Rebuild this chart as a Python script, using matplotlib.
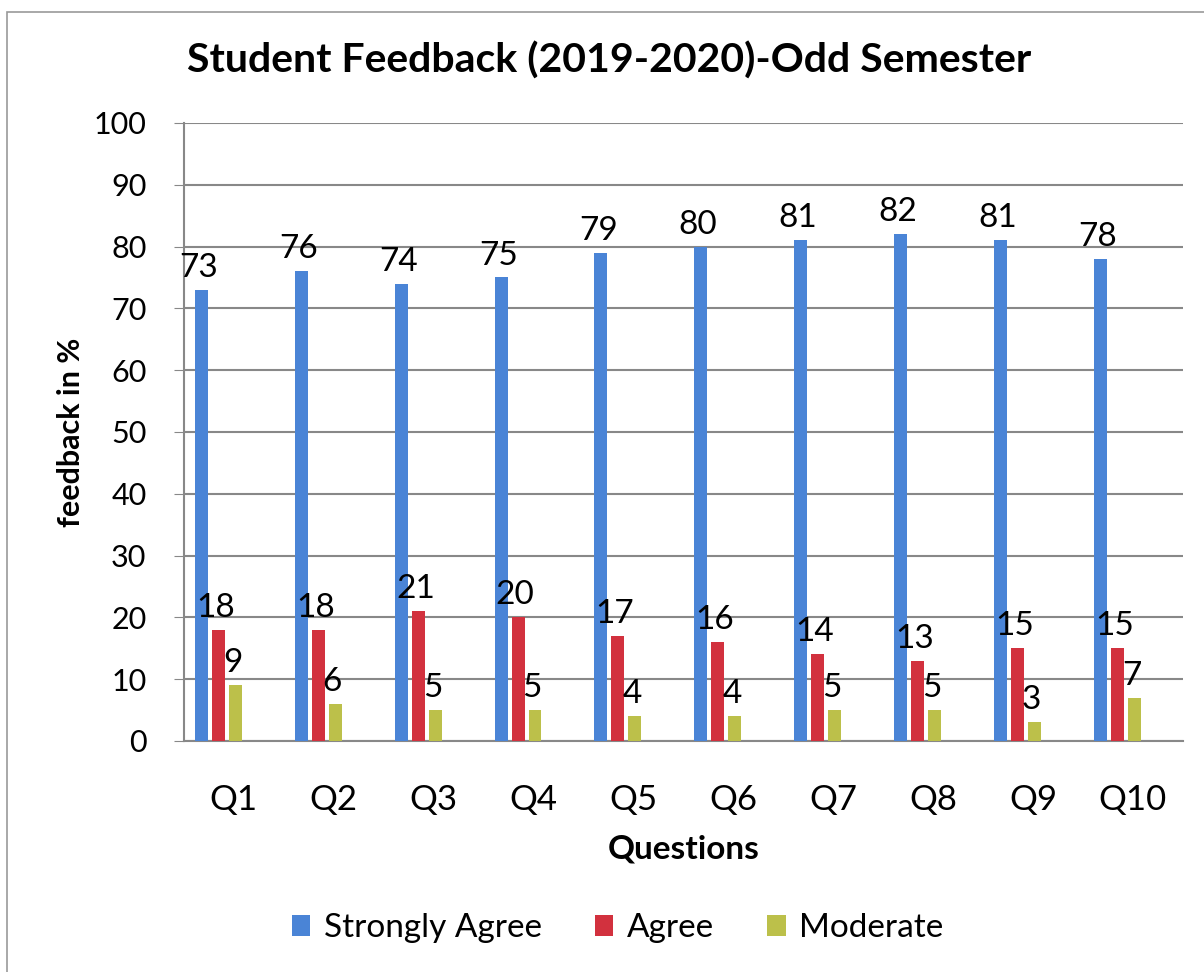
import numpy as np
import matplotlib.pyplot as plt
from matplotlib.patches import Rectangle

plt.rcParams['font.family'] = ['Lato', 'DejaVu Sans']

questions = ['Q1', 'Q2', 'Q3', 'Q4', 'Q5', 'Q6', 'Q7', 'Q8', 'Q9', 'Q10']
strongly_agree = [73, 76, 74, 75, 79, 80, 81, 82, 81, 78]
agree = [18, 18, 21, 20, 17, 16, 14, 13, 15, 15]
moderate = [9, 6, 5, 5, 4, 4, 5, 5, 3, 7]

series = [('Strongly Agree', strongly_agree, '#4a84d6'),
          ('Agree', agree, '#d2313e'),
          ('Moderate', moderate, '#bcc04a')]

fig = plt.figure(figsize=(12.04, 9.72), dpi=100)
ax = fig.add_axes([0.1528, 0.2377, 0.8297, 0.6358])

x = np.arange(len(questions))
width = 0.13
step = 0.17
shift = -0.156  # the bar groups sit a little left of the category labels

for i, (name, vals, color) in enumerate(series):
    pos = x + shift + (i - 1) * step
    ax.bar(pos, vals, width=width, color=color, label=name, zorder=3)
    for p, v in zip(pos, vals):
        ax.annotate(str(v), (p, v), xytext=(-2, 5), textcoords='offset points',
                    ha='center', va='bottom', fontsize=24, zorder=4)

ax.set_xlim(-0.5, len(questions) - 0.5)
ax.set_ylim(0, 100)
ax.set_yticks(range(0, 101, 10))
ax.set_xticks(x)
ax.set_xticklabels(questions)
ax.tick_params(axis='y', labelsize=22, length=7, color='#888888', pad=20)
ax.tick_params(axis='x', labelsize=25, length=0, pad=31)
ax.yaxis.grid(True, color='#888888', linewidth=1.5, zorder=0)
for s in ['top', 'right']:
    ax.spines[s].set_visible(False)
for s in ['left', 'bottom']:
    ax.spines[s].set_color('#888888')
    ax.spines[s].set_linewidth(1.5)

ax.set_xlabel('Questions', fontsize=24, fontweight='bold', labelpad=13)
ax.set_ylabel('feedback in %', fontsize=22, fontweight='bold', labelpad=6)
fig.text(0.506, 0.938, 'Student Feedback (2019-2020)-Odd Semester',
         ha='center', va='center', fontsize=29.5, fontweight='bold')

ax.legend(loc='center', bbox_to_anchor=(0.513, 0.045), bbox_transform=fig.transFigure,
          ncol=3, frameon=False, fontsize=24, handlelength=0.55, handleheight=0.55,
          columnspacing=1.6, handletextpad=0.4)

fig.patches.append(Rectangle((0.006, -0.01), 1.1, 0.998, transform=fig.transFigure,
                             fill=False, edgecolor='#999999', linewidth=1.2))

fig.savefig('out.png', dpi=100)
